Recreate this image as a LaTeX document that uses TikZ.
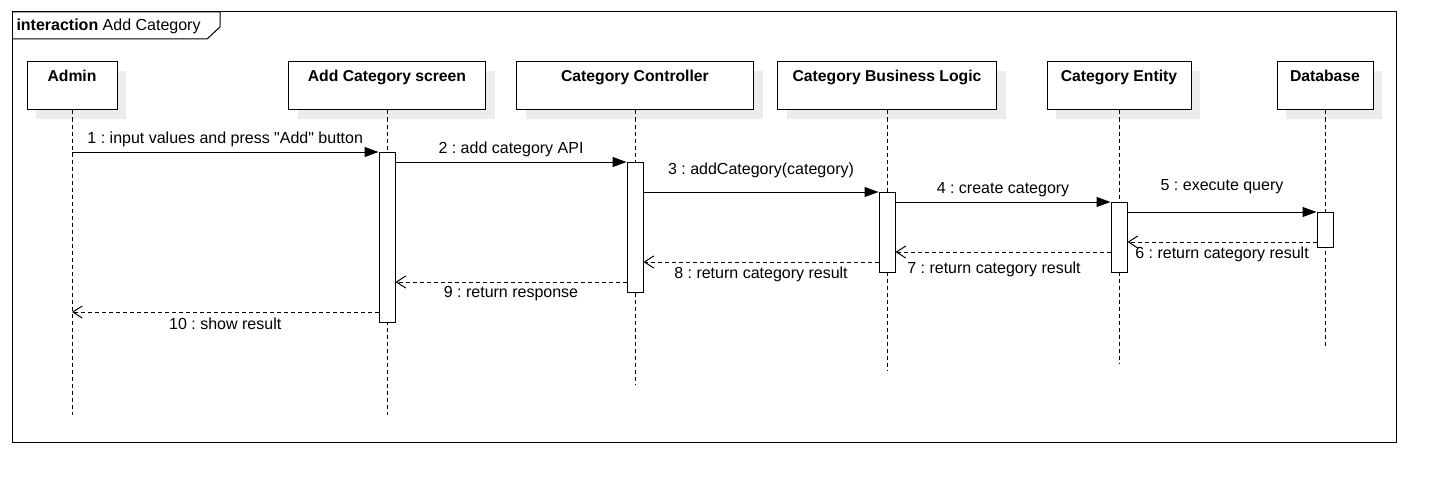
\documentclass[tikz,border=0pt]{standalone}
\usepackage{fontspec}
\setmainfont{Liberation Sans}[Ligatures=TeXOff]
\usetikzlibrary{arrows.meta,shadows}
\definecolor{shadowgray}{RGB}{236,236,236}
\frenchspacing
\begin{document}
\begin{tikzpicture}[x=0.75pt,y=-0.75pt,line width=0.75pt,
    head/.style={draw, fill=white, text height=15pt, text depth=21pt, inner ysep=0pt, font=\bfseries\fontsize{11.8}{14}\selectfont, general shadow={fill=shadowgray, shadow xshift=6.75pt, shadow yshift=-6.75pt}},
    act/.style={draw, fill=white, minimum width=12pt, inner sep=0pt, anchor=north},
    lifeline/.style={dash pattern=on 3pt off 2.25pt},
    call/.style={-{Triangle[length=10.5pt,width=7.5pt]}},
    reply/.style={dash pattern=on 3pt off 2.25pt, -{Straight Barb[length=7pt,width=9pt]}},
    msg/.style={font=\fontsize{12}{14}\selectfont, inner sep=0pt}]
  \useasboundingbox (0,0) rectangle (1446,492);
  \draw (12,12) rectangle (1396,442);
  \draw (12,12) -- (220,12) -- (220,27) -- (207,39) -- (12,39);
  \node[msg, anchor=west] (title) at (16,26) {\textbf{interaction} Add Category};

  \node[head, minimum width=67.5pt] (admin) at (72,86) {Admin};
  \node[head, minimum width=147.75pt] (screen) at (387,86) {Add Category screen};
  \node[head, minimum width=177.75pt] (ctrl) at (635,86) {Category Controller};
  \node[head, minimum width=164.25pt] (logic) at (887,86) {Category Business Logic};
  \node[head, minimum width=108pt] (entity) at (1119,86) {Category Entity};
  \node[head, minimum width=72pt] (db) at (1325,86) {Database};

  \foreach \n/\e in {admin/415, screen/415, ctrl/385, logic/370, entity/363, db/348}
    \draw[lifeline] (\n.south) -- (\n.south |- 0,\e);

  \node[act, minimum height=127.5pt] (sa) at (387,152) {};
  \node[act, minimum height=97.5pt] (ca) at (635,162) {};
  \node[act, minimum height=60pt] (la) at (887,192) {};
  \node[act, minimum height=52.5pt] (ea) at (1119,202) {};
  \node[act, minimum height=26.25pt] (da) at (1325,212) {};

  \draw[call] (admin.south |- sa.north) -- node[msg, midway, yshift=9.5pt] {1 : input values and press "Add" button} (sa.north west);
  \draw[call] (sa.east |- ca.north) -- node[msg, midway, yshift=9.5pt] {2 : add category API} (ca.north west);
  \draw[call] (ca.east |- la.north) -- node[msg, midway, yshift=16.5pt] {3 : addCategory(category)} (la.north west);
  \draw[call] (la.east |- ea.north) -- node[msg, midway, yshift=9.5pt] {4 : create category} (ea.north west);
  \draw[call] (ea.east |- da.north) -- node[msg, midway, yshift=18.75pt] {5 : execute query} (da.north west);
  \draw[reply] (da.west |- 0,242) -- node[msg, midway, yshift=-9pt] {6 : return category result} (ea.east |- 0,242);
  \draw[reply] (ea.west |- 0,252) -- node[msg, midway, yshift=-12.75pt, xshift=-6.75pt] {7 : return category result} (la.east |- 0,252);
  \draw[reply] (la.west |- 0,262) -- node[msg, midway, yshift=-9pt] {8 : return category result} (ca.east |- 0,262);
  \draw[reply] (ca.west |- 0,282) -- node[msg, midway, yshift=-9pt] {9 : return response} (sa.east |- 0,282);
  \draw[reply] (sa.west |- 0,312) -- node[msg, midway, yshift=-9pt] {10 : show result} (admin.south |- 0,312);
\end{tikzpicture}
\end{document}
